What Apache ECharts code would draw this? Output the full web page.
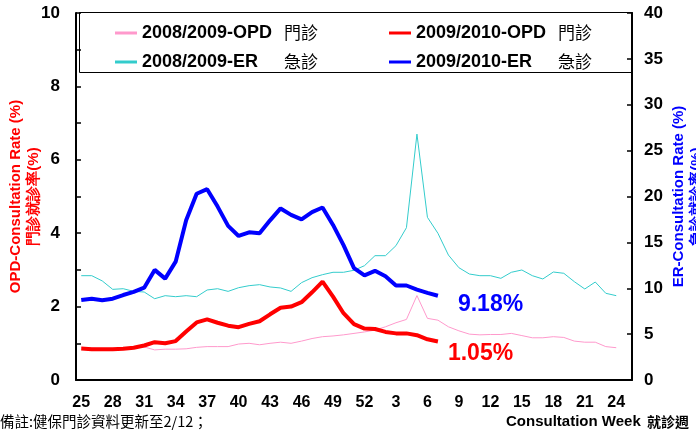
<!DOCTYPE html>
<html>
<head>
<meta charset="utf-8">
<script src="https://cdn.jsdelivr.net/npm/echarts@6/dist/echarts.min.js"></script>
<style>
  html, body { margin: 0; padding: 0; background: #fff; }
</style>
</head>
<body>
<div id="chart" style="width:696px;height:435px;"></div>
<script type="text/javascript">
// 週次 (25..52, 1..24, 尾端空白一格)
var weeks = ['25','26','27','28','29','30','31','32','33','34','35','36','37','38','39','40',
  '41','42','43','44','45','46','47','48','49','50','51','52',
  '1','2','3','4','5','6','7','8','9','10','11','12','13','14','15','16','17','18','19','20',
  '21','22','23','24',''];

// 門診就診率 (%)
var opd0809 = [0.89,0.87,0.86,0.86,0.86,0.87,0.90,0.82,0.84,0.84,0.85,0.89,0.91,0.91,0.91,0.98,
  1.00,0.96,1.00,1.03,1.00,1.06,1.13,1.18,1.20,1.23,1.27,1.31,1.36,1.45,1.56,1.65,2.30,1.68,
  1.63,1.45,1.34,1.25,1.23,1.24,1.24,1.27,1.21,1.15,1.15,1.18,1.16,1.06,1.03,1.03,0.91,0.88];
var opd0910 = [0.86,0.84,0.84,0.84,0.85,0.88,0.94,1.03,1.00,1.06,1.32,1.57,1.65,1.56,1.48,1.44,
  1.53,1.60,1.79,1.97,2.00,2.12,2.39,2.68,2.27,1.82,1.52,1.40,1.39,1.31,1.27,1.27,1.22,1.11,1.05];

// 急診就診率 (%)
var er0809 = [11.37,11.37,10.8,9.88,9.95,9.66,9.59,8.86,9.19,9.08,9.19,9.08,9.81,9.95,9.66,10.06,
  10.28,10.39,10.14,10.03,9.66,10.61,11.15,11.48,11.74,11.74,11.96,12.46,13.55,13.55,14.64,16.6,
  26.8,17.73,15.99,13.62,12.24,11.55,11.37,11.37,11.08,11.74,11.99,11.37,11.01,11.77,11.63,10.72,
  9.92,10.68,9.45,9.19];
var er0910 = [8.72,8.86,8.7,8.86,9.26,9.6,10.06,12.0,11.05,12.9,17.4,20.3,20.8,18.9,16.8,15.7,
  16.1,16.0,17.4,18.7,18.0,17.5,18.3,18.8,16.9,14.7,12.2,11.4,11.9,11.3,10.3,10.3,9.85,9.5,9.18];

var names = ['2008/2009-OPD','2009/2010-OPD','2008/2009-ER','2009/2010-ER'];
var cnNames = {'2008/2009-OPD':'門診','2009/2010-OPD':'門診','2008/2009-ER':'急診','2009/2010-ER':'急診'};

var FONT = 'Liberation Sans, Arial, sans-serif';
var CJK = 'Noto Sans CJK TC, sans-serif';

var legendText = {
  color: '#000',
  rich: {
    a: { fontFamily: FONT, fontWeight: 'bold', fontSize: 18, width: 142 },
    b: { fontFamily: CJK, fontSize: 17, color: '#000' }
  }
};
function legendFmt(name) {
  return '{a|' + name + '}{b|' + cnNames[name] + '}';
}

var chart = echarts.init(document.getElementById('chart'));
chart.setOption({
  animation: false,
  grid: { left: 76, right: 64, top: 13, bottom: 55, containLabel: false, outerBoundsMode: 'none' },
  legend: [{
    data: [names[0], names[1]],
    left: 110, top: 19, itemGap: 71,
    itemWidth: 22, itemHeight: 3, icon: 'rect',
    formatter: legendFmt, textStyle: legendText
  }, {
    data: [names[2], names[3]],
    left: 110, top: 48, itemGap: 71,
    itemWidth: 22, itemHeight: 3, icon: 'rect',
    formatter: legendFmt, textStyle: legendText
  }],
  graphic: [{
    type: 'rect',
    shape: { x: 79.5, y: 12.5, width: 553, height: 60 },
    style: { fill: 'none', stroke: '#000', lineWidth: 1 },
    silent: true
  }, {
    type: 'text', left: 0, top: 414,
    style: { text: '備註:健保門診資料更新至2/12；', font: '14.5px ' + CJK, fill: '#000' }
  }, {
    type: 'text', left: 506, top: 414,
    style: {
      text: '{a|Consultation Week}{b|  就診週}',
      rich: {
        a: { fontFamily: FONT, fontWeight: 'bold', fontSize: 15, fill: '#000' },
        b: { fontFamily: CJK, fontWeight: 'bold', fontSize: 14, fill: '#000' }
      }
    }
  }],
  xAxis: {
    type: 'category',
    data: weeks,
    boundaryGap: true,
    axisLine: { lineStyle: { color: '#000', width: 2 } },
    axisTick: { interval: 2, length: 5, lineStyle: { color: '#000', width: 1.5 } },
    axisLabel: { interval: 2, margin: 15, color: '#000', fontFamily: FONT, fontWeight: 'bold', fontSize: 16 }
  },
  yAxis: [{
    type: 'value',
    min: 0, max: 10, interval: 1,
    name: 'OPD-Consultation Rate (%)\n門診就診率(%)',
    nameLocation: 'middle', nameRotate: 90, nameGap: 33, nameMoveOverlap: false,
    nameTextStyle: { color: '#ff0000', fontFamily: FONT, fontWeight: 'bold', fontSize: 15, lineHeight: 18 },
    axisLine: { show: true, lineStyle: { color: '#000', width: 2 } },
    axisTick: { show: true, inside: true, length: 5, lineStyle: { color: '#000', width: 1.5 } },
    axisLabel: {
      margin: 16, color: '#000', fontFamily: FONT, fontWeight: 'bold', fontSize: 17,
      formatter: function (v) { return v % 2 === 0 ? v : ''; }
    },
    splitLine: { show: false }
  }, {
    type: 'value',
    position: 'right',
    min: 0, max: 40, interval: 5,
    name: 'ER-Consultation Rate (%)\n急診就診率(%)',
    nameLocation: 'middle', nameRotate: 90, nameGap: 38, nameMoveOverlap: false,
    nameTextStyle: { color: '#0000ff', fontFamily: FONT, fontWeight: 'bold', fontSize: 15, lineHeight: 18 },
    axisLine: { show: true, lineStyle: { color: '#000', width: 2 } },
    axisTick: { show: true, inside: true, length: 5, lineStyle: { color: '#000', width: 1.5 } },
    axisLabel: { margin: 12, color: '#000', fontFamily: FONT, fontWeight: 'bold', fontSize: 17 },
    splitLine: { show: false }
  }],
  series: [{
    name: names[0], type: 'line', yAxisIndex: 0, data: opd0809,
    showSymbol: false, color: '#ff99cc', lineStyle: { width: 1 }
  }, {
    name: names[2], type: 'line', yAxisIndex: 1, data: er0809,
    showSymbol: false, color: '#33cccc', lineStyle: { width: 1 }
  }, {
    name: names[1], type: 'line', yAxisIndex: 0, data: opd0910,
    showSymbol: false, color: '#ff0000', lineStyle: { width: 4 },
    endLabel: {
      show: true, distance: 0, offset: [10, 12],
      color: '#ff0000', fontFamily: FONT, fontWeight: 'bold', fontSize: 23,
      formatter: function (p) { return p.value + '%'; }
    }
  }, {
    name: names[3], type: 'line', yAxisIndex: 1, data: er0910,
    showSymbol: false, color: '#0000ff', lineStyle: { width: 4 },
    endLabel: {
      show: true, distance: 0, offset: [20, 9],
      color: '#0000ff', fontFamily: FONT, fontWeight: 'bold', fontSize: 23,
      formatter: function (p) { return p.value + '%'; }
    }
  }]
});
</script>
</body>
</html>
